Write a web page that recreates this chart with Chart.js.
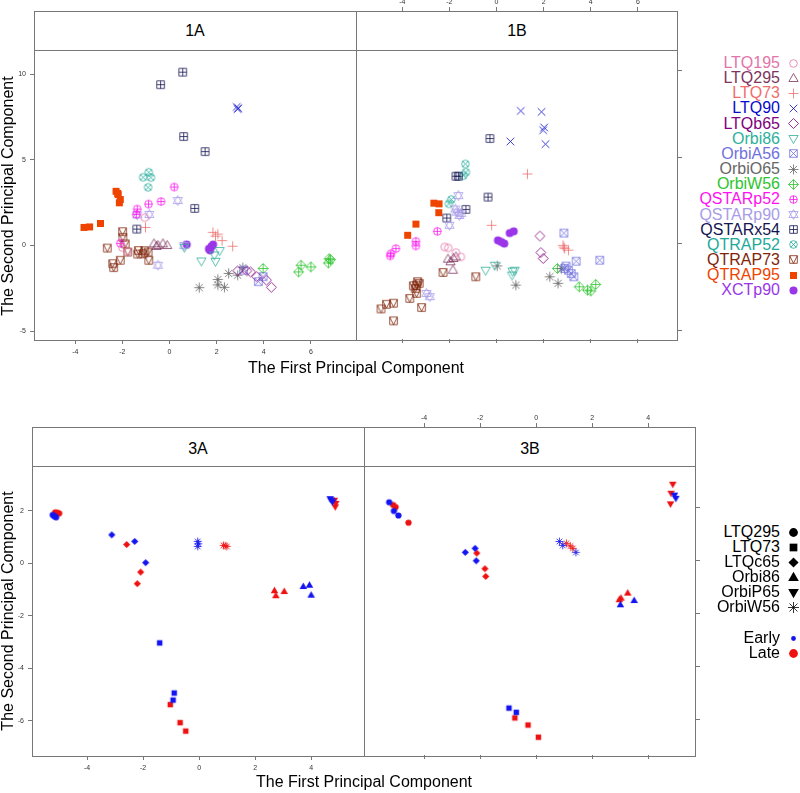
<!DOCTYPE html>
<html>
<head>
<meta charset="utf-8">
<script src="https://cdn.jsdelivr.net/npm/chart.js@4.4.1/dist/chart.umd.min.js"></script>
<style>
body{margin:0;background:#fff;font-family:"Liberation Sans",Arial,sans-serif;}
#page{position:relative;width:800px;height:793px;overflow:hidden;}
canvas.panel{position:absolute;z-index:1;}
.box{position:absolute;border:1px solid #777;box-sizing:border-box;z-index:3;}
.strip{position:absolute;background:#fff;border-bottom:1px solid #777;box-sizing:border-box;z-index:2;}
.vline{position:absolute;width:1px;background:#777;z-index:3;}
.lab{position:absolute;font-size:16px;color:#000;white-space:nowrap;z-index:4;transform:translate(-50%,-50%);}
.ylab{transform:translate(-50%,-50%) rotate(-90deg);}
.leg{position:absolute;right:20px;font-size:16px;line-height:18px;white-space:nowrap;text-align:right;}
.legsym{position:absolute;}
</style>
</head>
<body>
<div id="page">
  <canvas id="c1A" class="panel"></canvas>
  <canvas id="c1B" class="panel"></canvas>
  <canvas id="c3A" class="panel"></canvas>
  <canvas id="c3B" class="panel"></canvas>

  <!-- top figure frame -->
  <div class="strip" style="left:34px;top:11px;width:644px;height:40px;"></div>
  <div class="box" style="left:34px;top:11px;width:644px;height:330px;"></div>
  <div class="vline" style="left:356px;top:11px;height:330px;"></div>
  <div class="lab" style="left:195px;top:31px;">1A</div>
  <div class="lab" style="left:517px;top:31px;">1B</div>
  <div class="lab" style="left:356px;top:368px;">The First Principal Component</div>
  <div class="lab ylab" style="left:8px;top:196px;">The Second Principal Component</div>

  <!-- bottom figure frame -->
  <div class="strip" style="left:32px;top:427px;width:664px;height:40px;"></div>
  <div class="box" style="left:32px;top:427px;width:664px;height:330px;"></div>
  <div class="vline" style="left:364px;top:427px;height:330px;"></div>
  <div class="lab" style="left:198px;top:449px;">3A</div>
  <div class="lab" style="left:530px;top:449px;">3B</div>
  <div class="lab" style="left:364px;top:782px;">The First Principal Component</div>
  <div class="lab ylab" style="left:8px;top:611px;">The Second Principal Component</div>
</div>

<script>
// tick values
const xTicksTop = [-4, -2, 0, 2, 4, 6];
const yTicksTop = [-5, 0, 5, 10];
const xTicksBottom = [-4, -2, 0, 2, 4];
const yTicksBottom = [-6, -4, -2, 0, 2];

// top figure: instruments
const instruments = ['LTQ195','LTQ295','LTQ73','LTQ90','LTQb65','Orbi86','OrbiA56','OrbiO65',
  'OrbiW56','QSTARp52','QSTARp90','QSTARx54','QTRAP52','QTRAP73','QTRAP95','XCTp90'];
const instrumentColors = ['#e374aa','#7d3560','#ee6e6e','#0a0acd','#800080','#2eaf9b','#7070e0','#666666',
  '#2dc42d','#ff10f0','#a89ce8','#141450','#22a99a','#80250a','#ee4400','#9a35e8'];
const instrumentSymbols = ['circle','triangle','plus','cross','diamond','triDown','squareX','asterisk',
  'diamondPlus','circlePlus','star6','squarePlus','circleX','squareV','fsquare','fcircle'];

// panel 1A points, one list per instrument (same order)
const panel1A = [
  [[-1.05,1.63],[-2.0,-0.12],[-1.78,-0.35]],
  [[-0.66,0.10],[-0.49,0.0],[-0.28,0.10],[-0.10,0.0],[-0.55,-0.05]],
  [[-1.02,1.06],[1.84,0.77],[2.05,0.67],[2.23,0.29],[2.68,-0.04],[1.95,0.55]],
  [[2.85,8.10],[2.92,8.02],[2.88,7.98]],
  [[2.89,-1.48],[3.28,-1.48],[3.44,-1.54],[3.70,-1.82],[4.11,-2.02],[4.32,-2.44]],
  [[0.63,-0.10],[1.35,-0.90],[1.95,-0.92],[2.13,-0.29],[1.90,-0.55]],
  [[3.14,-1.44],[3.97,-1.82],[3.77,-2.11]],
  [[1.26,-2.46],[2.05,-1.98],[2.05,-2.30],[2.33,-2.44],[2.51,-1.63],[2.89,-1.73],[3.11,-1.29]],
  [[3.97,-1.34],[5.58,-1.15],[5.48,-1.54],[6.0,-1.25],[6.77,-0.77],[6.83,-0.83],[6.74,-1.02]],
  [[0.20,3.42],[-0.36,2.57],[-0.89,2.42],[-1.37,2.13],[-1.41,1.82],[-2.09,0.13]],
  [[0.35,2.63],[-0.86,1.82],[-1.37,1.79],[-0.49,-1.15],[0.62,0.0]],
  [[0.56,10.13],[-0.38,9.40],[0.60,6.37],[1.51,5.49],[1.07,2.17],[-1.39,0.96]],
  [[-0.88,4.28],[-1.12,3.99],[-0.79,3.97],[-0.91,3.40]],
  [[-1.99,0.81],[-1.98,0.48],[-1.88,0.10],[-2.64,-0.15],[-1.77,-0.38],[-1.32,-0.29],[-1.12,-0.48],
   [-0.91,-0.38],[-0.88,-0.86],[-2.09,-0.86],[-2.41,-1.06],[-2.37,-1.29],[-1.35,-0.5],[-1.05,-0.3]],
  [[-2.27,3.17],[-2.18,2.98],[-2.09,2.69],[-2.13,2.50],[-2.20,3.05],[-3.63,1.06],[-3.39,1.09],[-2.93,1.29]],
  [[0.73,0.06],[1.67,-0.19],[1.85,0.06],[1.78,-0.05],[1.72,-0.28]]
];

// panel 1B points
const panel1B = [
  [[-2.20,-0.19],[-1.72,-0.52],[-1.51,-0.77],[-2.05,-0.25]],
  [[-2.06,-0.90],[-1.83,-0.86],[-1.72,-0.77],[-1.85,-1.54],[-1.95,-1.05]],
  [[1.31,4.03],[-0.21,1.06],[2.82,-0.10],[2.89,-0.29],[3.05,-0.38],[2.86,-0.2]],
  [[1.03,7.68],[1.91,7.62],[2.02,6.72],[1.98,6.56],[0.59,5.91],[2.08,5.76]],
  [[1.84,0.44],[1.88,-0.52],[1.98,-0.86]],
  [[-0.46,-1.54],[-0.07,-1.25],[0.68,-1.59],[0.77,-1.54],[0.66,-1.82]],
  [[2.86,0.61],[3.38,-1.02],[4.38,-0.96],[2.89,-1.44],[3.05,-1.54],[3.17,-1.73],[3.28,-1.92],[2.95,-1.3]],
  [[0.03,-1.29],[0.82,-2.40],[2.26,-1.92],[2.61,-2.30],[2.75,-1.45]],
  [[2.58,-1.44],[3.51,-2.50],[3.86,-2.69],[4.0,-2.74],[4.21,-2.36]],
  [[-2.51,0.71],[-3.42,0.13],[-3.42,-0.13],[-4.27,-0.29],[-4.51,-0.71],[-4.48,-0.58]],
  [[-1.62,2.78],[-1.69,1.82],[-1.58,1.63],[-2.0,1.06],[-2.83,-3.07],[-2.97,-2.88],[-1.75,2.0],[-1.50,1.75]],
  [[-0.28,6.08],[-1.72,3.90],[-1.62,3.90],[-0.36,2.69],[-1.30,1.98],[-2.11,1.48]],
  [[-1.32,4.61],[-1.30,4.13],[-1.41,3.93],[-1.92,2.55],[-2.02,2.30]],
  [[-2.27,-1.67],[-0.88,-1.92],[-3.53,-2.44],[-3.39,-2.40],[-3.28,-2.30],[-3.45,-2.6],[-3.68,-3.17],
   [-3.39,-2.88],[-3.18,-3.70],[-4.37,-3.45],[-4.67,-3.51],[-4.90,-3.78],[-4.37,-4.47],[-3.35,-2.2]],
  [[-2.66,2.34],[-2.44,2.30],[-2.45,1.79],[-3.42,1.13],[-3.77,0.48]],
  [[0.06,0.19],[0.33,0.0],[0.56,0.61],[0.73,0.71],[0.2,0.1]]
];

// bottom figure: runs, early / late
const runs = ['LTQ295','LTQ73','LTQc65','Orbi86','OrbiP65','OrbiW56'];
const runSymbols = ['fcircle','fsquare','fdiamond','ftriangle','ftriDown','asterisk'];
const phases = ['Early','Late'];
const phaseColors = ['#1414f0','#ee1111'];

const panel3AEarly = [
  [[-5.23,1.85],[-5.11,1.76],[-5.17,1.80]],
  [[-1.41,-3.03],[-0.89,-4.94],[-0.93,-5.21]],
  [[-3.12,1.09],[-2.30,0.84],[-1.91,0.03]],
  [[3.72,-0.88],[3.94,-0.83],[4.0,-1.21]],
  [[4.68,2.47],[4.76,2.35],[4.72,2.42]],
  [[-0.05,0.84],[-0.05,0.65],[-0.03,0.75]]
];
const panel3ALate = [
  [[-5.14,1.95],[-5.0,1.91],[-5.06,1.93]],
  [[-1.03,-5.38],[-0.68,-6.07],[-0.48,-6.39]],
  [[-2.59,0.72],[-2.09,-0.33],[-2.21,-0.77]],
  [[2.69,-1.04],[2.74,-1.23],[3.04,-1.07]],
  [[4.83,2.41],[4.88,2.29],[4.86,2.16]],
  [[0.87,0.69],[0.99,0.65],[0.93,0.67]]
];
const panel3BEarly = [
  [[-5.25,2.20],[-5.08,1.87],[-4.92,1.70]],
  [[-0.97,-5.57],[-0.71,-5.73]],
  [[-2.53,0.31],[-2.18,0.46],[-2.14,-0.01]],
  [[3.01,-1.67],[3.50,-1.51]],
  [[4.94,2.47],[4.99,2.35]],
  [[0.83,0.72],[0.95,0.57],[1.42,0.31]]
];
const panel3BLate = [
  [[-5.11,2.10],[-5.02,2.02],[-4.56,1.43]],
  [[-0.76,-5.94],[-0.29,-6.21],[0.08,-6.67]],
  [[-2.12,0.28],[-1.83,-0.31],[-1.80,-0.60]],
  [[3.03,-1.42],[3.27,-1.23],[2.97,-1.48]],
  [[4.88,2.88],[4.82,2.54],[4.80,2.14]],
  [[1.08,0.65],[1.22,0.55],[1.31,0.46]]
];

Chart.defaults.font.family = '"Liberation Sans", Arial, sans-serif';

// R-like plotting symbols drawn on small canvases, used as pointStyle
function drawSym(g, kind, k, color){
  g.strokeStyle = color;
  g.fillStyle = color;
  g.lineWidth = 0.8;
  const tri = (s, down) => {
    const d = down ? -1 : 1;
    g.beginPath();
    g.moveTo(0, -5*s*d); g.lineTo(4.6*s, 3*s*d); g.lineTo(-4.6*s, 3*s*d);
    g.closePath();
  };
  const sq = s => { g.beginPath(); g.rect(-s, -s, 2*s, 2*s); };
  const circ = s => { g.beginPath(); g.arc(0, 0, s, 0, Math.PI*2); };
  const dia = s => { g.beginPath(); g.moveTo(0,-s); g.lineTo(s,0); g.lineTo(0,s); g.lineTo(-s,0); g.closePath(); };
  const lines = segs => {
    g.beginPath();
    segs.forEach(s => { g.moveTo(s[0], s[1]); g.lineTo(s[2], s[3]); });
    g.stroke();
  };
  const plus = s => lines([[-s,0,s,0],[0,-s,0,s]]);
  const xx = s => lines([[-s,-s,s,s],[-s,s,s,-s]]);
  const r = 3.8*k;
  switch(kind){
    case 'circle': circ(r); g.stroke(); break;
    case 'triangle': tri(k,false); g.stroke(); break;
    case 'plus': plus(5*k); break;
    case 'cross': xx(3.8*k); break;
    case 'diamond': dia(5*k); g.stroke(); break;
    case 'triDown': tri(k,true); g.stroke(); break;
    case 'squareX': sq(r); g.stroke(); xx(r); break;
    case 'asterisk': plus(5*k); xx(3.6*k); break;
    case 'diamondPlus': dia(5*k); g.stroke(); plus(5*k); break;
    case 'circlePlus': circ(r); g.stroke(); plus(r); break;
    case 'star6': tri(k,false); g.stroke(); tri(k,true); g.stroke(); break;
    case 'squarePlus': sq(r); g.stroke(); plus(r); break;
    case 'circleX': circ(r); g.stroke(); xx(r*0.7); break;
    case 'squareV': sq(r); g.stroke(); lines([[-r,-r,0,r],[0,r,r,-r]]); break;
    case 'fsquare': sq(3.5*k); g.fill(); break;
    case 'fcircle': circ(4*k); g.fill(); break;
    case 'fdiamond': dia(4.6*k); g.fill(); break;
    case 'ftriangle': tri(k*1.05,false); g.fill(); break;
    case 'ftriDown': tri(k*1.05,true); g.fill(); break;
  }
}

function symbolCanvas(kind, k, color){
  const s = Math.ceil(12*k) + 3;
  const c = document.createElement('canvas');
  c.width = s; c.height = s;
  const g = c.getContext('2d');
  g.translate(s/2, s/2);
  drawSym(g, kind, k, color);
  return c;
}

function makeAxis(pos, tickList, min, max, showLabels, size, pad){
  const horiz = (pos === 'top' || pos === 'bottom');
  return {
    type: 'linear', position: pos, min: min, max: max,
    afterBuildTicks: s => { s.ticks = tickList.map(v => ({value: v})); },
    afterFit: s => { if (horiz) s.height = size; else s.width = size; },
    ticks: {display: showLabels, font: {size: 7}, color: '#333', padding: pad,
            maxRotation: 0, autoSkip: false},
    grid: {drawOnChartArea: false, drawTicks: true, tickLength: 4, color: '#777'},
    border: {display: false}
  };
}

function makePanel(id, box, datasets, scales){
  const cv = document.getElementById(id);
  cv.width = box.w; cv.height = box.h;
  cv.style.left = box.x + 'px'; cv.style.top = box.y + 'px';
  return new Chart(cv, {
    type: 'scatter',
    data: {datasets: datasets},
    options: {
      responsive: false, animation: false, devicePixelRatio: 1,
      layout: {padding: 0},
      plugins: {legend: {display: false}, tooltip: {enabled: false}},
      scales: scales
    }
  });
}

function toPts(list){ return list.map(p => ({x: p[0], y: p[1]})); }

function topSets(panel){
  return panel.map((pts, i) => ({
    label: instruments[i],
    data: toPts(pts),
    pointStyle: symbolCanvas(instrumentSymbols[i], 1, instrumentColors[i]),
    pointRadius: 4, pointHoverRadius: 4
  }));
}

function bottomSets(early, late){
  const sets = [];
  [early, late].forEach((panel, p) => {
    panel.forEach((pts, i) => {
      sets.push({
        label: runs[i] + ' ' + phases[p],
        data: toPts(pts),
        pointStyle: symbolCanvas(runSymbols[i], 0.78, phaseColors[p]),
        pointRadius: 4, pointHoverRadius: 4
      });
    });
  });
  return sets;
}

// top figure ranges
const topX = [-5.75, 7.70];
const topY = [-5.52, 13.46];
makePanel('c1A', {x: 0, y: 7, w: 356, h: 353}, topSets(panel1A), {
  x: makeAxis('bottom', xTicksTop, topX[0], topX[1], true, 20, 4),
  x2: makeAxis('top', xTicksTop, topX[0], topX[1], false, 4, 1),
  y: makeAxis('left', yTicksTop, topY[0], topY[1], true, 34, 4)
});
makePanel('c1B', {x: 356, y: -1, w: 327, h: 345}, topSets(panel1B), {
  x: makeAxis('top', xTicksTop, topX[0], topX[1], true, 12, 1),
  x2: makeAxis('bottom', xTicksTop, topX[0], topX[1], false, 4, 1),
  y: makeAxis('right', yTicksTop, topY[0], topY[1], false, 5, 1)
});

// bottom figure ranges
const botX = [-5.97, 5.71];
const botY = [-7.34, 5.04];
makePanel('c3A', {x: 0, y: 423, w: 364, h: 353}, bottomSets(panel3AEarly, panel3ALate), {
  x: makeAxis('bottom', xTicksBottom, botX[0], botX[1], true, 20, 4),
  x2: makeAxis('top', xTicksBottom, botX[0], botX[1], false, 4, 1),
  y: makeAxis('left', yTicksBottom, botY[0], botY[1], true, 32, 4)
});
makePanel('c3B', {x: 364, y: 415, w: 337, h: 345}, bottomSets(panel3BEarly, panel3BLate), {
  x: makeAxis('top', xTicksBottom, botX[0], botX[1], true, 12, 1),
  x2: makeAxis('bottom', xTicksBottom, botX[0], botX[1], false, 4, 1),
  y: makeAxis('right', yTicksBottom, botY[0], botY[1], false, 5, 1)
});

// legends
const page = document.getElementById('page');
function legendRow(text, textColor, kind, k, symColor, cy){
  const d = document.createElement('div');
  d.className = 'leg';
  d.textContent = text;
  d.style.color = textColor;
  d.style.top = (cy - 9) + 'px';
  page.appendChild(d);
  const c = symbolCanvas(kind, k, symColor);
  c.className = 'legsym';
  c.style.left = (793 - c.width/2) + 'px';
  c.style.top = (cy - c.height/2) + 'px';
  page.appendChild(c);
}
instruments.forEach((n, i) => {
  legendRow(n, instrumentColors[i], instrumentSymbols[i], 1, instrumentColors[i], 63 + i*15.15);
});
runs.forEach((n, i) => {
  legendRow(n, '#000', runSymbols[i], 1.1, '#000', 532 + i*15);
});
legendRow(phases[0], '#000', 'fcircle', 0.6, phaseColors[0], 638);
legendRow(phases[1], '#000', 'fcircle', 1.1, phaseColors[1], 653);
</script>
</body>
</html>
